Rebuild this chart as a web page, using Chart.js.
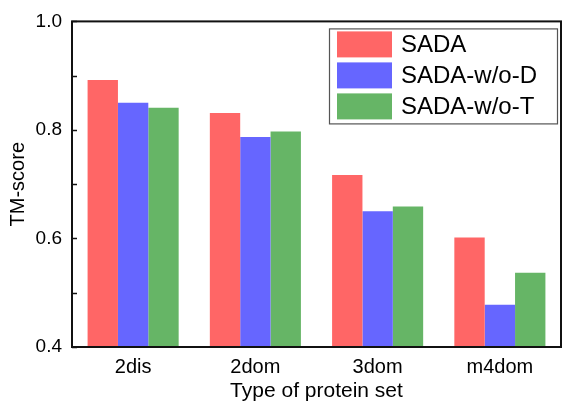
<!DOCTYPE html>
<html>
<head>
<meta charset="utf-8">
<script src="https://cdn.jsdelivr.net/npm/chart.js@4.4.0/dist/chart.umd.min.js"></script>
<style>
  html, body { margin: 0; padding: 0; background: #fff; }
  #wrap { width: 563px; height: 402px; position: relative; }
</style>
</head>
<body>
<div id="wrap"><canvas id="myChart"></canvas></div>
<script>
// Data
const categories = ['2dis', '2dom', '3dom', 'm4dom'];
const seriesNames = ['SADA', 'SADA-w/o-D', 'SADA-w/o-T'];
const sadaValues = [0.892, 0.831, 0.717, 0.602];
const woDValues = [0.850, 0.787, 0.650, 0.478];
const woTValues = [0.841, 0.797, 0.659, 0.537];
const seriesColors = ['#ff6666', '#6666ff', '#66b566'];

const FONT = "'Liberation Sans', Arial, sans-serif";

// frame around the plot + inward tick marks on the y axis
const framePlugin = {
    id: 'frame',
    afterDraw(chart) {
        const ctx = chart.ctx;
        const a = chart.chartArea;
        const y = chart.scales.y;
        ctx.save();
        ctx.strokeStyle = '#111';
        ctx.lineWidth = 1.5;
        y.ticks.forEach(t => {
            const py = Math.round(y.getPixelForValue(t.value)) + 0.5;
            ctx.beginPath();
            ctx.moveTo(a.left, py);
            ctx.lineTo(a.left + 5, py);
            ctx.stroke();
        });
        ctx.lineWidth = 2;
        ctx.strokeRect(a.left, a.top, a.right - a.left, a.bottom - a.top);
        ctx.restore();
    }
};

// legend box drawn inside the plot, top right
const boxLegend = {
    id: 'boxLegend',
    afterDraw(chart) {
        const ctx = chart.ctx;
        const a = chart.chartArea;
        const w = 228, h = 95;
        const x0 = a.right - 4 - w, y0 = a.top + 7;
        ctx.save();
        ctx.strokeStyle = '#555';
        ctx.lineWidth = 1.2;
        ctx.strokeRect(x0 + 0.5, y0 + 0.5, w, h);
        ctx.font = '24px ' + FONT;
        ctx.textBaseline = 'middle';
        chart.data.datasets.forEach((ds, i) => {
            const ry = y0 + 3 + i * 31;
            ctx.fillStyle = ds.backgroundColor;
            ctx.fillRect(x0 + 8, ry, 55, 26);
            ctx.fillStyle = '#000';
            ctx.fillText(ds.label, x0 + 72, ry + 14);
        });
        ctx.restore();
    }
};

const ctx = document.getElementById('myChart').getContext('2d');
const myChart = new Chart(ctx, {
    type: 'bar',
    data: {
        labels: categories,
        datasets: [
            { label: seriesNames[0], data: sadaValues, backgroundColor: seriesColors[0] },
            { label: seriesNames[1], data: woDValues, backgroundColor: seriesColors[1] },
            { label: seriesNames[2], data: woTValues, backgroundColor: seriesColors[2] }
        ]
    },
    options: {
        responsive: true,
        maintainAspectRatio: false,
        animation: false,
        layout: { padding: { top: 21, right: 2, left: 0, bottom: 0 } },
        datasets: {
            bar: { categoryPercentage: 0.745, barPercentage: 1.0, borderWidth: 0 }
        },
        plugins: {
            legend: { display: false },
            tooltip: { enabled: false }
        },
        scales: {
            x: {
                grid: { display: false, drawTicks: false },
                border: { display: false },
                ticks: { color: '#000', padding: 8, font: { family: FONT, size: 20 } },
                title: {
                    display: true, text: 'Type of protein set', color: '#000',
                    padding: { top: 0, bottom: 0 },
                    font: { family: FONT, size: 21, lineHeight: 1.05 }
                },
                afterFit(scale) { scale.height = 55; }
            },
            y: {
                min: 0.4,
                max: 1.0,
                grid: { display: false, drawTicks: false },
                border: { display: false },
                ticks: {
                    stepSize: 0.1,
                    color: '#000',
                    padding: 10,
                    font: { family: FONT, size: 19 },
                    callback: (v) => (Math.round(v * 10) % 2 === 0 ? v.toFixed(1) : '')
                },
                title: {
                    display: true, text: 'TM-score', color: '#000',
                    padding: { top: 6, bottom: 0 },
                    font: { family: FONT, size: 20 }
                },
                afterFit(scale) { scale.width = 72; }
            }
        }
    },
    plugins: [framePlugin, boxLegend]
});
</script>
</body>
</html>
